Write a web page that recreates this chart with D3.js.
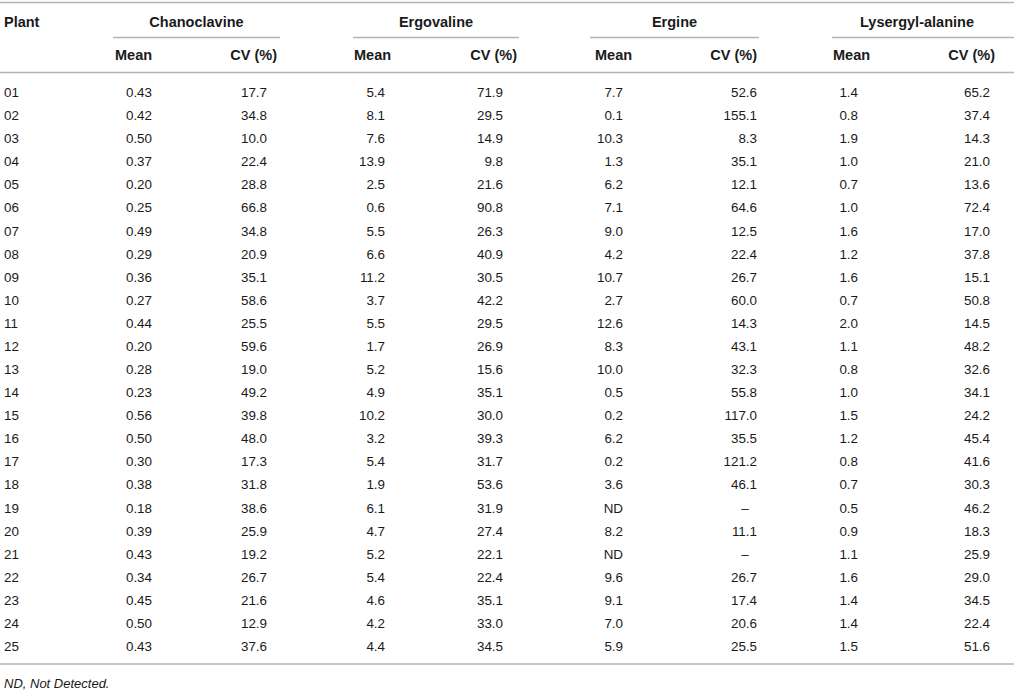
<!DOCTYPE html>
<html>
<head>
  <meta charset="UTF-8">
  <title>Ergot alkaloids per plant</title>
  <script src="https://cdnjs.cloudflare.com/ajax/libs/d3/7.8.5/d3.min.js"></script>
  <style>
    body { margin: 0; background: #fff; }
    text { font-family: "Liberation Sans", Arial, Helvetica, sans-serif; fill: #1a1a1a; }
    .head { font-size: 14.5px; font-weight: bold; }
    .cell { font-size: 13.4px; }
    .note { font-size: 13px; font-style: italic; }
    .rule { stroke: #b4b4b4; stroke-width: 1.6; }
  </style>
</head>
<body>
<script>
  // Table data
  const plants = ["01","02","03","04","05","06","07","08","09","10","11","12","13",
                  "14","15","16","17","18","19","20","21","22","23","24","25"];
  const compounds = ["Chanoclavine", "Ergovaline", "Ergine", "Lysergyl-alanine"];
  const subHeads = ["Mean", "CV (%)"];

  const chanoMean = [0.43,0.42,0.50,0.37,0.20,0.25,0.49,0.29,0.36,0.27,0.44,0.20,0.28,
                     0.23,0.56,0.50,0.30,0.38,0.18,0.39,0.43,0.34,0.45,0.50,0.43];
  const chanoCV = [17.7,34.8,10.0,22.4,28.8,66.8,34.8,20.9,35.1,58.6,25.5,59.6,19.0,
                   49.2,39.8,48.0,17.3,31.8,38.6,25.9,19.2,26.7,21.6,12.9,37.6];
  const ergovMean = [5.4,8.1,7.6,13.9,2.5,0.6,5.5,6.6,11.2,3.7,5.5,1.7,5.2,
                     4.9,10.2,3.2,5.4,1.9,6.1,4.7,5.2,5.4,4.6,4.2,4.4];
  const ergovCV = [71.9,29.5,14.9,9.8,21.6,90.8,26.3,40.9,30.5,42.2,29.5,26.9,15.6,
                   35.1,30.0,39.3,31.7,53.6,31.9,27.4,22.1,22.4,35.1,33.0,34.5];
  const ergineMean = [7.7,0.1,10.3,1.3,6.2,7.1,9.0,4.2,10.7,2.7,12.6,8.3,10.0,
                      0.5,0.2,6.2,0.2,3.6,null,8.2,null,9.6,9.1,7.0,5.9];
  const ergineCV = [52.6,155.1,8.3,35.1,12.1,64.6,12.5,22.4,26.7,60.0,14.3,43.1,32.3,
                    55.8,117.0,35.5,121.2,46.1,null,11.1,null,26.7,17.4,20.6,25.5];
  const lysMean = [1.4,0.8,1.9,1.0,0.7,1.0,1.6,1.2,1.6,0.7,2.0,1.1,0.8,
                   1.0,1.5,1.2,0.8,0.7,0.5,0.9,1.1,1.6,1.4,1.4,1.5];
  const lysCV = [65.2,37.4,14.3,21.0,13.6,72.4,17.0,37.8,15.1,50.8,14.5,48.2,32.6,
                 34.1,24.2,45.4,41.6,30.3,46.2,18.3,25.9,29.0,34.5,22.4,51.6];

  const footnote = "ND, Not Detected.";

  const W = 1014, H = 690;

  const svg = d3.select("body").append("svg")
    .attr("width", W)
    .attr("height", H);

  // one entry per value column
  const columns = [
    {key: "cm", group: 0, sub: 0, vals: chanoMean, fmt: d3.format(".2f")},
    {key: "cc", group: 0, sub: 1, vals: chanoCV,   fmt: d3.format(".1f")},
    {key: "em", group: 1, sub: 0, vals: ergovMean, fmt: d3.format(".1f")},
    {key: "ec", group: 1, sub: 1, vals: ergovCV,   fmt: d3.format(".1f")},
    {key: "gm", group: 2, sub: 0, vals: ergineMean, fmt: d3.format(".1f")},
    {key: "gc", group: 2, sub: 1, vals: ergineCV,   fmt: d3.format(".1f")},
    {key: "lm", group: 3, sub: 0, vals: lysMean, fmt: d3.format(".1f")},
    {key: "lc", group: 3, sub: 1, vals: lysCV,   fmt: d3.format(".1f")}
  ];

  // Scales
  const yRow = d3.scalePoint().domain(plants).range([92, 646]);

  // right edge of the numbers in each column
  const xValue = d3.scaleOrdinal()
    .domain(columns.map(c => c.key))
    .range([152, 267, 385, 503, 623, 757, 858, 990]);

  // left edge of "Mean" header / right edge of "CV (%)" header
  const xSubHead = d3.scaleOrdinal()
    .domain(columns.map(c => c.key))
    .range([115, 277, 354, 517, 595, 757, 833, 995]);

  // group spans (underlines)
  const groupStart = d3.scaleOrdinal().domain(compounds).range([113, 353, 590, 832]);
  const groupEnd = d3.scaleOrdinal().domain(compounds).range([280, 519, 759, 1014]);

  // Rules
  svg.append("line").attr("class", "rule")
    .attr("x1", 0).attr("x2", W).attr("y1", 2.5).attr("y2", 2.5);
  svg.append("line").attr("class", "rule")
    .attr("x1", 0).attr("x2", W).attr("y1", 72.5).attr("y2", 72.5);
  svg.append("line").attr("class", "rule")
    .attr("x1", 0).attr("x2", W).attr("y1", 664).attr("y2", 664);

  svg.selectAll(".grule")
    .data(compounds)
    .enter()
    .append("line")
    .attr("class", "rule grule")
    .attr("x1", d => groupStart(d))
    .attr("x2", d => groupEnd(d))
    .attr("y1", 37.5)
    .attr("y2", 37.5);

  // Headers
  svg.append("text").attr("class", "head")
    .attr("x", 4).attr("y", 27).text("Plant");

  svg.selectAll(".ghead")
    .data(compounds)
    .enter()
    .append("text")
    .attr("class", "head ghead")
    .attr("x", d => (groupStart(d) + groupEnd(d)) / 2 + (d === "Lysergyl-alanine" ? -6 : 0))
    .attr("y", 27)
    .attr("text-anchor", "middle")
    .text(d => d);

  svg.selectAll(".shead")
    .data(columns)
    .enter()
    .append("text")
    .attr("class", "head shead")
    .attr("x", d => xSubHead(d.key))
    .attr("y", 60)
    .attr("text-anchor", d => d.sub === 0 ? "start" : "end")
    .text(d => subHeads[d.sub]);

  // Plant labels
  svg.selectAll(".plant")
    .data(plants)
    .enter()
    .append("text")
    .attr("class", "cell plant")
    .attr("x", 4)
    .attr("y", d => yRow(d) + 5)
    .text(d => d);

  // Cells
  const cells = [];
  columns.forEach(c => {
    c.vals.forEach((v, i) => cells.push({col: c, plant: plants[i], v: v}));
  });

  svg.selectAll(".val")
    .data(cells)
    .enter()
    .append("text")
    .attr("class", "cell val")
    .attr("x", d => (d.v === null && d.col.sub === 1) ? xValue(d.col.key) - 12 : xValue(d.col.key))
    .attr("y", d => yRow(d.plant) + 5)
    .attr("text-anchor", d => (d.v === null && d.col.sub === 1) ? "middle" : "end")
    .text(d => d.v === null ? (d.col.sub === 0 ? "ND" : "\u2013") : d.col.fmt(d.v));

  // Footnote
  svg.append("text").attr("class", "note")
    .attr("x", 4).attr("y", 688).text(footnote);
</script>
</body>
</html>
